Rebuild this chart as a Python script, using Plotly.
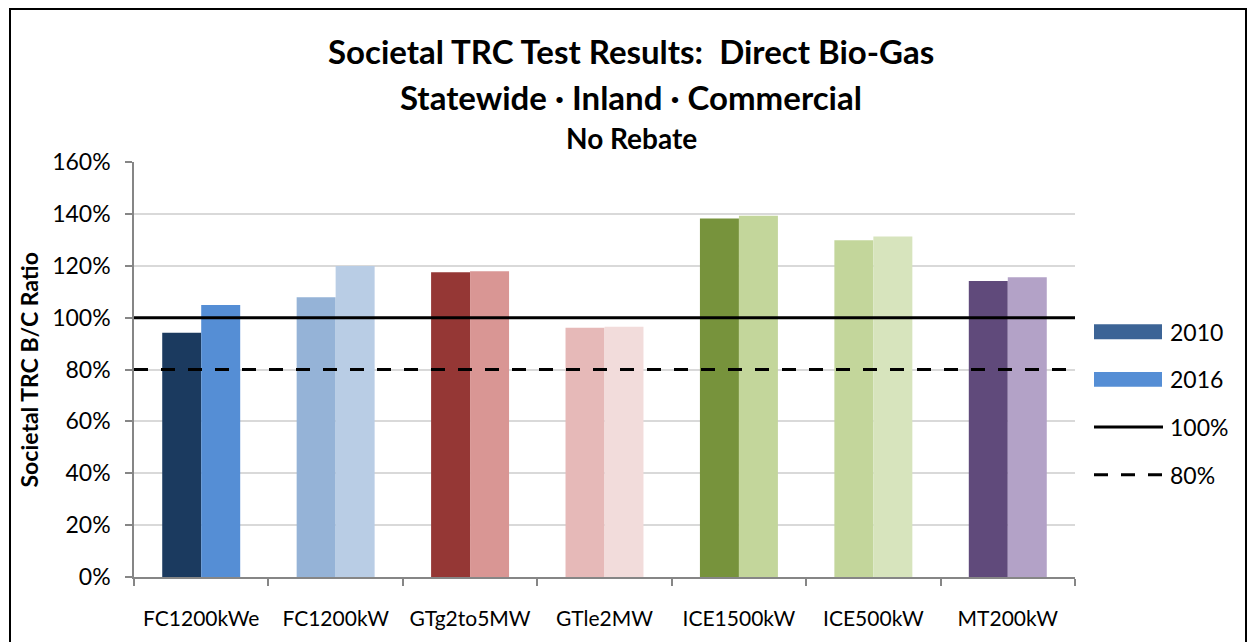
import plotly.graph_objects as go

# data
categories = ["FC1200kWe", "FC1200kW", "GTg2to5MW", "GTle2MW", "ICE1500kW", "ICE500kW", "MT200kW"]
ratio_2010 = [0.942, 1.079, 1.175, 0.961, 1.382, 1.298, 1.141]
ratio_2016 = [1.049, 1.199, 1.179, 0.965, 1.393, 1.313, 1.156]
ref_solid = 1.0
ref_dashed = 0.8

colors_2010 = ["#1B3A5F", "#95B3D7", "#953735", "#E6B9B8", "#77933C", "#C3D69B", "#604A7B"]
colors_2016 = ["#558ED5", "#B9CDE5", "#D99694", "#F2DCDB", "#C3D69B", "#D7E4BD", "#B3A2C7"]

FONT = "Lato"
W, H = 1252, 642
L, R, T, B = 134, 177, 162, 62
PW, PH = W - L - R, H - T - B


def px(x):
    return (x - L) / PW


def py(y):
    return (H - B - y) / PH


fig = go.Figure()
fig.add_trace(go.Bar(x=categories, y=ratio_2010, name="2010",
                     marker=dict(color=colors_2010, line=dict(width=0)), showlegend=False))
fig.add_trace(go.Bar(x=categories, y=ratio_2016, name="2016",
                     marker=dict(color=colors_2016, line=dict(width=0)), showlegend=False))

# reference lines
fig.add_hline(y=ref_solid, line=dict(color="black", width=3))
fig.add_hline(y=ref_dashed, line=dict(color="black", width=3, dash="14px,13px"))

# manual legend (wide swatches like the original)
legend_items = [("2010", "#3C6496", "rect"), ("2016", "#558ED5", "rect"),
                ("100%", "black", "solid"), ("80%", "black", "dash")]
for i, (label, col, kind) in enumerate(legend_items):
    yc = 333 + i * 48
    if kind == "rect":
        fig.add_shape(type="rect", xref="paper", yref="paper",
                      x0=px(1094), x1=px(1162), y0=py(yc - 7.5), y1=py(yc + 7.5),
                      fillcolor=col, line=dict(width=0))
    else:
        fig.add_shape(type="line", xref="paper", yref="paper",
                      x0=px(1094), x1=px(1163), y0=py(yc), y1=py(yc),
                      line=dict(color=col, width=3, dash="14px,13px" if kind == "dash" else "solid"))
    fig.add_annotation(x=px(1168), y=py(yc), xref="paper", yref="paper", text=label,
                       showarrow=False, xanchor="left", yanchor="middle",
                       font=dict(family=FONT, size=23, color="black"))

# titles
title_lines = [("Societal TRC Test Results:  Direct Bio-Gas", 33, 50),
               ("Statewide · Inland · Commercial", 33, 97),
               ("No Rebate", 28, 138)]
for text, size, yc in title_lines:
    fig.add_annotation(x=px(631), y=py(yc), xref="paper", yref="paper", text=f"<b>{text}</b>",
                       showarrow=False, xanchor="center", yanchor="middle",
                       font=dict(family=FONT, size=size, color="black"))

fig.add_annotation(x=px(29), y=py(372), xref="paper", yref="paper",
                   text="<b>Societal TRC B/C Ratio</b>", textangle=-90, showarrow=False,
                   xanchor="center", yanchor="middle",
                   font=dict(family=FONT, size=23, color="black"))

# outer frame
fig.add_shape(type="rect", xref="paper", yref="paper",
              x0=px(10), x1=px(1246), y0=py(660), y1=py(8),
              line=dict(color="black", width=2), fillcolor="rgba(0,0,0,0)", layer="below")

fig.update_layout(
    width=W, height=H,
    margin=dict(l=L, r=R, t=T, b=B),
    paper_bgcolor="white", plot_bgcolor="white",
    barmode="group", bargap=0.42, bargroupgap=0,
    font=dict(family=FONT, size=21, color="black"),
    showlegend=False,
)
fig.update_xaxes(showline=True, linecolor="#868686", linewidth=1.5,
                 ticks="outside", ticklen=7, tickcolor="#868686", tickwidth=1.5,
                 tickson="boundaries", ticklabelstandoff=22,
                 tickfont=dict(family=FONT, size=21, color="black"))
fig.update_yaxes(range=[0, 1.6], dtick=0.2, tickformat=".0%",
                 showline=True, linecolor="#868686", linewidth=1.5,
                 ticks="outside", ticklen=7, tickcolor="#868686", tickwidth=1.5,
                 ticklabelstandoff=10,
                 showgrid=True, gridcolor="#D9D9D9", gridwidth=1.5, zeroline=False,
                 tickfont=dict(family=FONT, size=23, color="black"))

fig.write_html("out.html", config={"displayModeBar": False},
               post_script="document.body.style.margin='0px';")
